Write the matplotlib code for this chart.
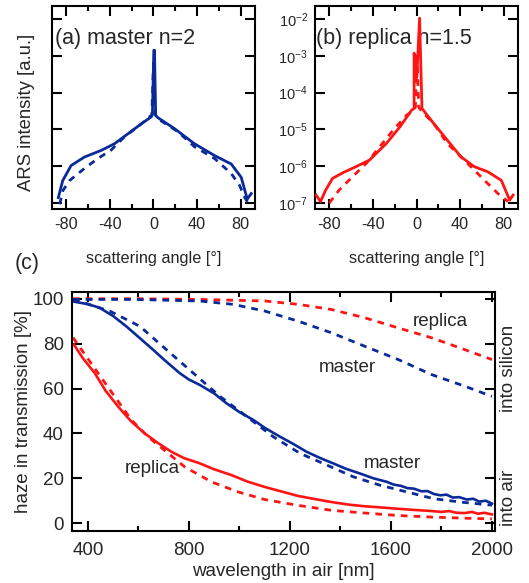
import numpy as np
import matplotlib
matplotlib.use("Agg")
import matplotlib.pyplot as plt
from matplotlib.ticker import MultipleLocator, LogLocator, NullLocator

# ---- datos ----
# (a) master, ARS (log10 de la intensidad)
ang_a_med = [-87.2, -83.2, -75.5, -63.3, -48, -35.8, -23.5, -11.3, -2.1, -1.0, 0.3, 0.9, 2.0, 4.0,
             19.3, 37.6, 56, 71.3, 80.4, 85.9, 89.6]
log_a_med = [-6.85, -6.39, -5.98, -5.75, -5.57, -5.39, -5.12, -4.85, -4.66, -4.6, -2.85, -2.85, -4.62, -4.68,
             -4.98, -5.39, -5.71, -5.94, -6.30, -6.89, -6.74]
ang_a_sim = [-86, -83, -77, -63.3, -51, -38.8, -26.6, -14.4, -5.2, -1.5, 0, 1.5, 5.5,
             22.3, 37.6, 56, 71.3, 78.9, 83.5, 88]
log_a_sim = [-7.03, -6.66, -6.39, -6.06, -5.79, -5.56, -5.2, -4.93, -4.7, -4.6, -3.2, -4.6, -4.74,
             -5.06, -5.47, -5.79, -6.2, -6.52, -6.84, -7.06]

# (b) replica, ARS
ang_b_med = [-92, -88, -83.3, -77, -67.8, -55.4, -43, -27.6, -15.2, -4.3, -2.2, -2.2, 0.3, 2.8, 5,
             15.8, 28.2, 40.6, 52.9, 65.3, 77.7, 85.4, 88.5]
log_b_med = [-6.78, -6.96, -6.65, -6.33, -6.18, -6.01, -5.83, -5.38, -4.93, -4.47, -4.43, -2.93, -3.57, -1.98, -4.43,
             -4.84, -5.29, -5.74, -6.01, -6.15, -6.38, -6.92, -6.78]
ang_b_sim = [-80, -71, -58.5, -46, -33.7, -21.4, -9, -4.3, -1, 0.5, 2, 6.5,
             15.8, 28.2, 40.6, 49.8, 65.3, 74.6, 83.9]
log_b_sim = [-7.0, -6.65, -6.28, -5.92, -5.47, -5.02, -4.61, -4.52, -4.4, -3.0, -4.4, -4.56,
             -4.84, -5.38, -5.74, -6.01, -6.47, -6.74, -6.96]

# (c) haze en transmision
lam_master = [345, 400, 446, 500, 552, 600, 658, 700, 763, 800, 843, 900, 949, 1000, 1055, 1100, 1161,
              1210, 1266, 1320, 1372, 1420, 1478, 1530, 1584, 1610, 1640, 1665, 1690, 1720, 1745, 1770,
              1796, 1820, 1845, 1870, 1901, 1925, 1950, 1975, 2000]
haze_master = [98.7, 97.6, 96.0, 92.3, 87.7, 83.0, 77.3, 73.0, 66.9, 64.0, 61.6, 57.8, 53.4, 49.5, 46.0,
               42.5, 38.5, 35.5, 31.8, 29.0, 26.6, 24.3, 22.1, 20.0, 18.4, 17.2, 16.6, 15.6, 15.4, 14.2,
               14.3, 13.0, 12.4, 12.7, 11.4, 11.6, 10.5, 10.9, 9.6, 10.0, 8.7]
lam_master_sim = [341, 487, 606, 711, 817, 923, 1029, 1134, 1240, 1346, 1452, 1557, 1663, 1769, 1875, 2000]
haze_master_sim = [99.7, 94.5, 87.7, 77.3, 66.9, 56.5, 47.5, 38.5, 31.1, 25.9, 20.6, 16.9, 13.9, 10.9, 9.4, 8.0]

lam_replica = [345, 380, 427, 470, 520, 570, 625, 680, 731, 780, 837, 900, 969, 1030, 1101, 1170, 1233,
               1300, 1365, 1430, 1497, 1560, 1629, 1690, 1761, 1800, 1830, 1860, 1893, 1920, 1945, 1970, 2000]
haze_replica = [79.5, 73.5, 66.9, 59.0, 51.9, 45.5, 40.0, 35.5, 31.8, 29.0, 26.9, 24.0, 21.4, 18.6, 16.1,
                14.0, 12.1, 10.7, 9.4, 8.3, 7.5, 7.0, 6.4, 5.9, 5.4, 5.0, 5.4, 4.6, 4.5, 5.0, 4.2, 4.6, 3.9]
lam_replica_sim = [341, 440, 572, 638, 783, 889, 995, 1101, 1233, 1365, 1497, 1629, 1761, 1893, 2000]
haze_replica_sim = [82.7, 66.9, 46.0, 38.5, 25.1, 18.4, 13.9, 10.5, 7.9, 5.7, 4.5, 3.4, 2.7, 2.2, 1.9]

# hacia el silicio (simulado)
lam_si_master = [341, 579, 843, 975, 1101, 1233, 1365, 1497, 1629, 1761, 1893, 2000]
haze_si_master = [99.7, 99.7, 99.0, 97.5, 94.5, 90.0, 84.8, 78.8, 72.9, 66.2, 61.0, 56.5]
lam_si_replica = [341, 600, 843, 1101, 1233, 1365, 1497, 1629, 1761, 1893, 2000]
haze_si_replica = [100.0, 100.0, 99.7, 99.0, 97.5, 95.2, 91.5, 87.0, 82.6, 77.3, 72.9]

#%%
plt.rcParams["font.family"] = ["Liberation Sans", "DejaVu Sans"]
plt.rcParams["mathtext.fontset"] = "custom"
plt.rcParams["mathtext.rm"] = "Liberation Sans"
plt.rcParams["axes.unicode_minus"] = False
plt.rcParams["axes.linewidth"] = 1.5

azul = "#0a2a9a"
rojo = "#ff1414"
gris = "#262626"
guion = (0, (2.4, 2.2))

fig = plt.figure(figsize=(5.29, 5.83), dpi=100)
ax_a = fig.add_axes([0.0983, 0.6415, 0.3837, 0.3482])
ax_b = fig.add_axes([0.5955, 0.6415, 0.3837, 0.3482])
ax_c = fig.add_axes([0.1361, 0.0892, 0.7996, 0.4099])


def estilo(ax, tam):
    ax.tick_params(which="both", direction="in", top=True, right=True, width=1.5,
                   labelsize=tam, labelcolor=gris)
    ax.tick_params(which="major", length=7)
    ax.tick_params(which="minor", length=3.5)


#%%
# paneles (a) y (b)
for ax, ang_m, log_m, ang_s, log_s, color in [
        (ax_a, ang_a_med, log_a_med, ang_a_sim, log_a_sim, azul),
        (ax_b, ang_b_med, log_b_med, ang_b_sim, log_b_sim, rojo)]:
    ax.plot(ang_m, 10 ** np.array(log_m), color=color, lw=2.0, zorder=3)
    ax.plot(ang_s, 10 ** np.array(log_s), color=color, lw=2.0, ls=guion, zorder=3)
    ax.set_yscale("log")
    ax.set_xlim(-93, 93)
    ax.set_ylim(10 ** -7.16, 10 ** -1.65)
    ax.xaxis.set_major_locator(MultipleLocator(40))
    ax.xaxis.set_minor_locator(MultipleLocator(20))
    ax.yaxis.set_major_locator(LogLocator(base=10, numticks=10))
    ax.yaxis.set_minor_locator(NullLocator())
    estilo(ax, 11.7)
    ax.tick_params(axis="x", pad=6)
    ax.set_xlabel("scattering angle [°]", fontsize=11.7, color=gris)
    ax.xaxis.set_label_coords(0.5, -0.246)
    ax.xaxis.label.set_va("center")

ax_a.tick_params(axis="y", labelleft=False)
ax_b.tick_params(axis="y", labelsize=10.5, pad=5)
ax_a.set_ylabel("ARS intensity [a.u.]", fontsize=13.3, color=gris)
ax_a.yaxis.set_label_coords(-0.128, 0.478)
ax_a.yaxis.label.set_va("center")

ax_a.text(0.015, 0.842, "(a) master n=2", transform=ax_a.transAxes, fontsize=15.5,
          color=gris, va="center", ha="left", zorder=1)
ax_b.text(0.006, 0.842, "(b) replica n=1.5", transform=ax_b.transAxes, fontsize=15.5,
          color=gris, va="center", ha="left", zorder=1)

#%%
# panel (c)
ax_c.plot(lam_si_replica, haze_si_replica, color=rojo, lw=2.0, ls=guion)
ax_c.plot(lam_si_master, haze_si_master, color=azul, lw=2.0, ls=guion)
ax_c.plot(lam_master_sim, haze_master_sim, color=azul, lw=2.0, ls=guion)
ax_c.plot(lam_replica_sim, haze_replica_sim, color=rojo, lw=2.0, ls=guion)
ax_c.plot(lam_master, haze_master, color=azul, lw=1.9)
ax_c.plot(lam_replica, haze_replica, color=rojo, lw=1.9)

ax_c.set_xlim(337, 2012)
ax_c.set_ylim(-3.5, 103)
ax_c.xaxis.set_major_locator(MultipleLocator(400))
ax_c.xaxis.set_minor_locator(MultipleLocator(200))
ax_c.yaxis.set_major_locator(MultipleLocator(20))
estilo(ax_c, 13.5)
ax_c.tick_params(axis="x", pad=8)
ax_c.tick_params(axis="y", pad=6)
ax_c.set_xlabel("wavelength in air [nm]", fontsize=13.5, color=gris)
ax_c.xaxis.set_label_coords(0.5, -0.1715)
ax_c.xaxis.label.set_va("center")
ax_c.set_ylabel("haze in transmission [%]", fontsize=13.5, color=gris)
ax_c.yaxis.set_label_coords(-0.1158, 0.5)
ax_c.yaxis.label.set_va("center")

ax_c.text(1795, 89.8, "replica", fontsize=13.5, color=gris, ha="center", va="center")
ax_c.text(1426, 69.2, "master", fontsize=13.5, color=gris, ha="center", va="center")
ax_c.text(1604, 26.7, "master", fontsize=13.5, color=gris, ha="center", va="center")
ax_c.text(657, 24.5, "replica", fontsize=13.5, color=gris, ha="center", va="center")
ax_c.text(1.031, 0.682, "into silicon", transform=ax_c.transAxes, rotation=90,
          fontsize=13.5, color=gris, ha="center", va="center")
ax_c.text(1.031, 0.138, "into air", transform=ax_c.transAxes, rotation=90,
          fontsize=13.5, color=gris, ha="center", va="center")

fig.text(27 / 529, 1 - 264 / 583, "(c)", fontsize=15.5, color=gris, ha="center", va="center")

fig.savefig("out.png", dpi=100)
